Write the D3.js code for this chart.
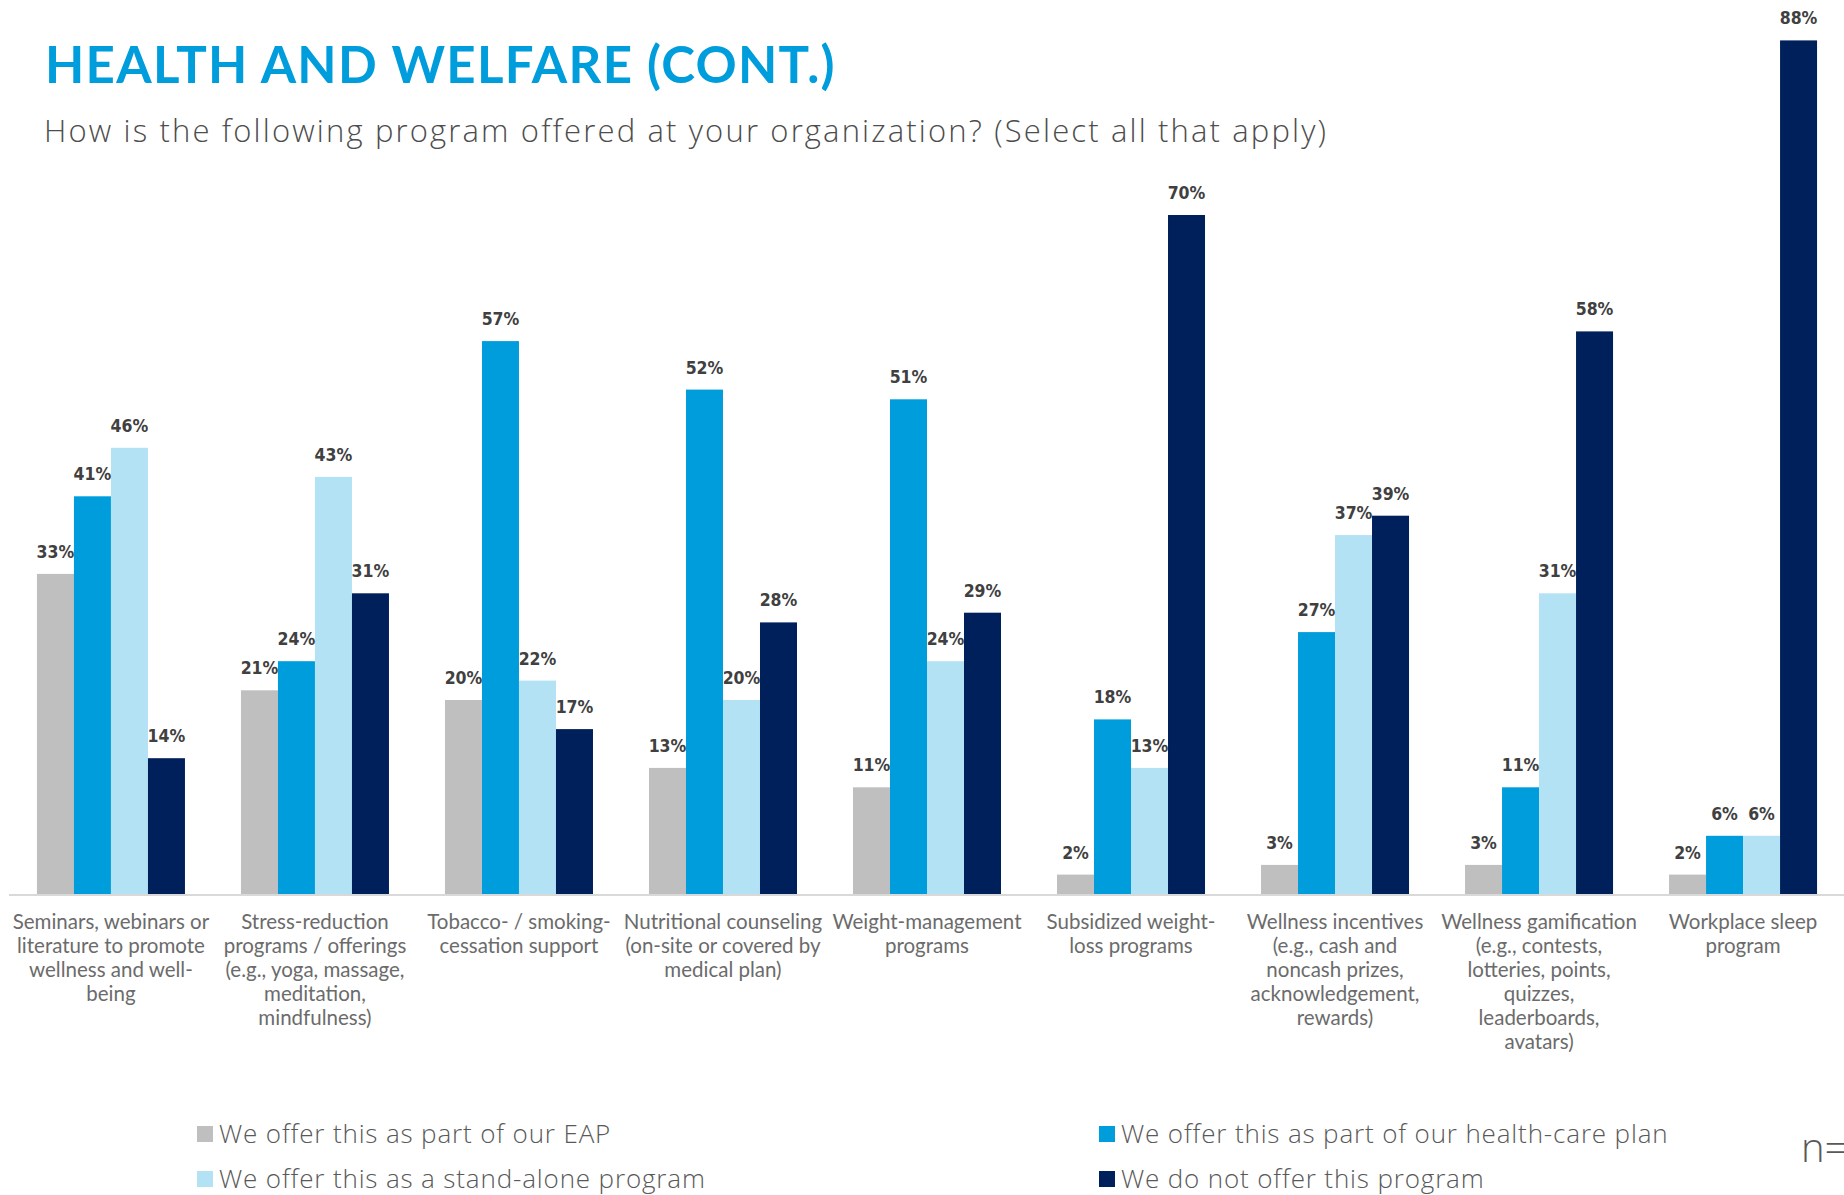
<!DOCTYPE html>
<html>
<head>
<meta charset="utf-8">
<script src="https://cdn.jsdelivr.net/npm/d3@7/dist/d3.min.js"></script>
<style>
  html, body { margin: 0; padding: 0; background: #fff; overflow: hidden; }
  svg { display: block; }
</style>
</head>
<body>
<svg id="chart" width="1844" height="1195"></svg>
<script>
// Program categories (label lines for the x axis)
const categories = [
  ["Seminars, webinars or", "literature to promote", "wellness and well-", "being"],
  ["Stress-reduction", "programs / offerings", "(e.g., yoga, massage,", "meditation,", "mindfulness)"],
  ["Tobacco- / smoking-", "cessation support"],
  ["Nutritional counseling", "(on-site or covered by", "medical plan)"],
  ["Weight-management", "programs"],
  ["Subsidized weight-", "loss programs"],
  ["Wellness incentives", "(e.g., cash and", "noncash prizes,", "acknowledgement,", "rewards)"],
  ["Wellness gamification", "(e.g., contests,", "lotteries, points,", "quizzes,", "leaderboards,", "avatars)"],
  ["Workplace sleep", "program"]
];

// Series names (legend order)
const seriesNames = [
  "We offer this as part of our EAP",
  "We offer this as part of our health-care plan",
  "We offer this as a stand-alone program",
  "We do not offer this program"
];

// Percent values per series, one entry per category
const eapValues        = [33, 21, 20, 13, 11,  2,  3,  3,  2];
const healthPlanValues = [41, 24, 57, 52, 51, 18, 27, 11,  6];
const standAloneValues = [46, 43, 22, 20, 24, 13, 37, 31,  6];
const notOfferedValues = [14, 31, 17, 28, 29, 70, 39, 58, 88];

const seriesValues = [eapValues, healthPlanValues, standAloneValues, notOfferedValues];
const seriesColors = ["#bfbfbf", "#009ddc", "#b3e2f4", "#00205b"];

const titleText = "HEALTH AND WELFARE (CONT.)";
const subtitleText = "How is the following program offered at your organization? (Select all that apply)";
const sampleNote = "n=8";

const svg = d3.select("#chart");

// Title block
svg.append("text")
  .attr("x", 45).attr("y", 83)
  .attr("font-family", "Lato, 'Open Sans', sans-serif")
  .attr("font-weight", 700)
  .attr("font-size", 51)
  .attr("letter-spacing", 1.3)
  .attr("fill", "#009ddc")
  .text(titleText);

svg.append("text")
  .attr("x", 44).attr("y", 142)
  .attr("font-family", "'Open Sans', Lato, sans-serif")
  .attr("font-weight", 300)
  .attr("font-size", 31)
  .attr("letter-spacing", 2.15)
  .attr("fill", "#4d4d4d")
  .text(subtitleText);

// Scales
const baseline = 894;
const x0 = d3.scaleBand()
  .domain(d3.range(categories.length))
  .range([9, 1845])
  .paddingInner(0.2745)
  .paddingOuter(0.137);

const x1 = d3.scaleBand()
  .domain(d3.range(seriesNames.length))
  .range([0, x0.bandwidth()]);

const y = d3.scaleLinear()
  .domain([0, 100])
  .range([baseline, baseline - 970]);

// Bars
const groups = svg.append("g").selectAll("g")
  .data(categories.map((c, i) => i))
  .join("g")
  .attr("transform", i => `translate(${x0(i)},0)`);

groups.selectAll("rect")
  .data(i => seriesValues.map((vals, s) => ({ s, v: vals[i] })))
  .join("rect")
  .attr("x", d => x1(d.s))
  .attr("y", d => y(d.v))
  .attr("width", x1.bandwidth())
  .attr("height", d => y(0) - y(d.v))
  .attr("fill", d => seriesColors[d.s]);

// Value labels
groups.selectAll("text.val")
  .data(i => seriesValues.map((vals, s) => ({ s, v: vals[i] })))
  .join("text")
  .attr("class", "val")
  .attr("x", d => x1(d.s) + x1.bandwidth() / 2)
  .attr("y", d => y(d.v) - 16)
  .attr("text-anchor", "middle")
  .attr("font-family", "'Liberation Sans Narrow', 'DejaVu Sans Condensed', 'Roboto', sans-serif")
  .attr("font-stretch", "condensed")
  .attr("font-weight", 700)
  .attr("font-size", 17.5)
  .attr("fill", "#404040")
  .text(d => d.v + "%");

// Category axis line
svg.append("line")
  .attr("x1", 9).attr("x2", 1844)
  .attr("y1", baseline + 1).attr("y2", baseline + 1)
  .attr("stroke", "#d9d9d9")
  .attr("stroke-width", 2);

// Category labels
const catLabels = svg.append("g").selectAll("text")
  .data(categories)
  .join("text")
  .attr("x", (d, i) => x0(i) + x0.bandwidth() / 2)
  .attr("y", 929)
  .attr("text-anchor", "middle")
  .attr("font-family", "Lato, 'Open Sans', sans-serif")
  .attr("font-size", 20.5)
  .attr("fill", "#6b6b6b");

catLabels.each(function(lines) {
  const t = d3.select(this);
  const cx = t.attr("x");
  lines.forEach((ln, k) => {
    t.append("tspan")
      .attr("x", cx)
      .attr("dy", k === 0 ? 0 : 24)
      .text(ln);
  });
});

// Legend
const legendPos = [
  { x: 197, y: 1143 },
  { x: 1099, y: 1143 },
  { x: 197, y: 1188 },
  { x: 1099, y: 1188 }
];
const legend = svg.append("g").selectAll("g")
  .data(seriesNames)
  .join("g")
  .attr("transform", (d, i) => `translate(${legendPos[i].x},${legendPos[i].y})`);

legend.append("rect")
  .attr("x", 0).attr("y", -17)
  .attr("width", 16).attr("height", 16)
  .attr("fill", (d, i) => seriesColors[i]);

legend.append("text")
  .attr("x", 22).attr("y", 0)
  .attr("font-family", "'Open Sans', Lato, sans-serif")
  .attr("font-weight", 300)
  .attr("font-size", 26)
  .attr("letter-spacing", 0.85)
  .attr("fill", "#595959")
  .text(d => d);

// Sample-size note at the right edge
svg.append("text")
  .attr("x", 1801).attr("y", 1162)
  .attr("font-family", "'Open Sans', Lato, sans-serif")
  .attr("font-weight", 300)
  .attr("font-size", 40)
  .attr("fill", "#595959")
  .text(sampleNote);
</script>
</body>
</html>
